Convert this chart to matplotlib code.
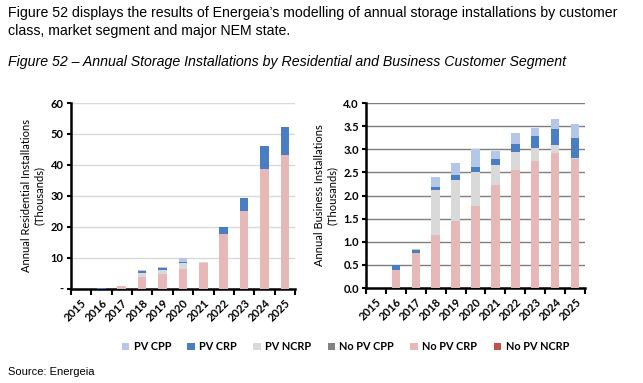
import matplotlib
matplotlib.use("Agg")
import matplotlib.pyplot as plt
from matplotlib.patches import Patch
import numpy as np

years = ["2015", "2016", "2017", "2018", "2019", "2020", "2021", "2022", "2023", "2024", "2025"]

# Residential (thousands), stacked bottom -> top
res_no_pv_crp = [0.0, 0.0, 0.8, 3.8, 4.9, 6.5, 8.4, 17.6, 25.0, 38.8, 43.3]
res_pv_ncrp = [0.0, 0.0, 0.0, 1.4, 1.2, 1.8, 0.2, 0.0, 0.0, 0.0, 0.0]
res_pv_crp = [0.0, 0.2, 0.0, 0.7, 0.5, 0.5, 0.1, 2.2, 4.2, 7.4, 9.0]
res_pv_cpp = [0.0, 0.0, 0.0, 0.2, 0.4, 1.2, 0.1, 0.0, 0.0, 0.0, 0.0]

# Business (thousands)
bus_no_pv_crp = [0.0, 0.40, 0.76, 1.15, 1.44, 1.77, 2.23, 2.55, 2.74, 2.91, 2.80]
bus_pv_ncrp = [0.0, 0.0, 0.0, 0.96, 0.90, 0.73, 0.44, 0.40, 0.29, 0.19, 0.01]
bus_pv_crp = [0.0, 0.10, 0.07, 0.08, 0.11, 0.11, 0.12, 0.17, 0.26, 0.34, 0.43]
bus_pv_cpp = [0.0, 0.0, 0.02, 0.21, 0.26, 0.40, 0.17, 0.24, 0.16, 0.22, 0.30]

series_names = ["PV CPP", "PV CRP", "PV NCRP", "No PV CPP", "No PV CRP", "No PV NCRP"]
series_colors = ["#B4C7E7", "#4A7EC2", "#D9D9D9", "#808080", "#E6B8B7", "#C0504D"]

plt.rcParams["font.family"] = ["Lato", "DejaVu Sans"]

fig = plt.figure(figsize=(6.43, 3.83), dpi=100)

head = ["Liberation Sans", "DejaVu Sans"]
fig.text(0.012, 0.965, "Figure 52 displays the results of Energeia\u2019s modelling of annual storage installations by customer",
         fontsize=10.2, family=head, va="center")
fig.text(0.012, 0.918, "class, market segment and major NEM state.", fontsize=10.2, family=head, va="center")
fig.text(0.012, 0.838, "Figure 52 \u2013 Annual Storage Installations by Residential and Business Customer Segment",
         fontsize=10.2, family=head, style="italic", va="center")
fig.text(0.012, 0.028, "Source: Energeia", fontsize=8, family=head, va="center")


def draw_panel(ax, stacks, ylim, yticks, yticklabels, ylabel, grid_color):
    x = np.arange(len(years))
    bottom = np.zeros(len(years))
    for vals, col in stacks:
        ax.bar(x, vals, 0.42, bottom=bottom, color=col, zorder=3)
        bottom += np.array(vals)
    ax.set_xlim(-0.5, len(years) - 0.5)
    ax.set_ylim(*ylim)
    ax.set_yticks(yticks)
    ax.set_yticklabels(yticklabels, fontsize=8, fontweight="bold")
    ax.set_xticks(x)
    ax.set_xticklabels(years, rotation=45, ha="right", rotation_mode="anchor",
                       fontsize=8, fontweight="bold")
    ax.set_xticks(np.arange(-0.5, len(years)), minor=True)
    ax.tick_params(axis="x", which="major", length=0, pad=6)
    ax.tick_params(axis="x", which="minor", length=4, width=1.5, direction="out")
    ax.tick_params(axis="y", length=3, width=1.5, direction="out", pad=2)
    for t in yticks[1:]:
        ax.axhline(t, color=grid_color, lw=1, zorder=1)
    for s in ["top", "right"]:
        ax.spines[s].set_visible(False)
    for s in ["left", "bottom"]:
        ax.spines[s].set_linewidth(1.8)
    ax.set_ylabel(ylabel, fontsize=8, labelpad=4)


ax1 = fig.add_axes([0.110, 0.246, 0.349, 0.485])
draw_panel(ax1,
           [(res_no_pv_crp, series_colors[4]), (res_pv_ncrp, series_colors[2]),
            (res_pv_crp, series_colors[1]), (res_pv_cpp, series_colors[0])],
           (0, 60), [0, 10, 20, 30, 40, 50, 60], ["-", "10", "20", "30", "40", "50", "60"],
           "Annual Residential Installations\n(Thousands)", "#D9D9D9")

ax2 = fig.add_axes([0.569, 0.248, 0.341, 0.483])
draw_panel(ax2,
           [(bus_no_pv_crp, series_colors[4]), (bus_pv_ncrp, series_colors[2]),
            (bus_pv_crp, series_colors[1]), (bus_pv_cpp, series_colors[0])],
           (0, 4.0), [0, 0.5, 1.0, 1.5, 2.0, 2.5, 3.0, 3.5, 4.0],
           ["0.0", "0.5", "1.0", "1.5", "2.0", "2.5", "3.0", "3.5", "4.0"],
           "Annual Business Installations\n(Thousands)", "#7F7F7F")

handles = [Patch(facecolor=c, edgecolor="none") for c in series_colors]
leg = fig.legend(handles, series_names, loc="center", bbox_to_anchor=(0.537, 0.094), ncol=6,
                 frameon=False, handlelength=0.7, handleheight=0.7, handletextpad=0.4,
                 columnspacing=1.5, prop={"weight": "bold", "size": 7.8})

fig.savefig("out.png", dpi=100)
